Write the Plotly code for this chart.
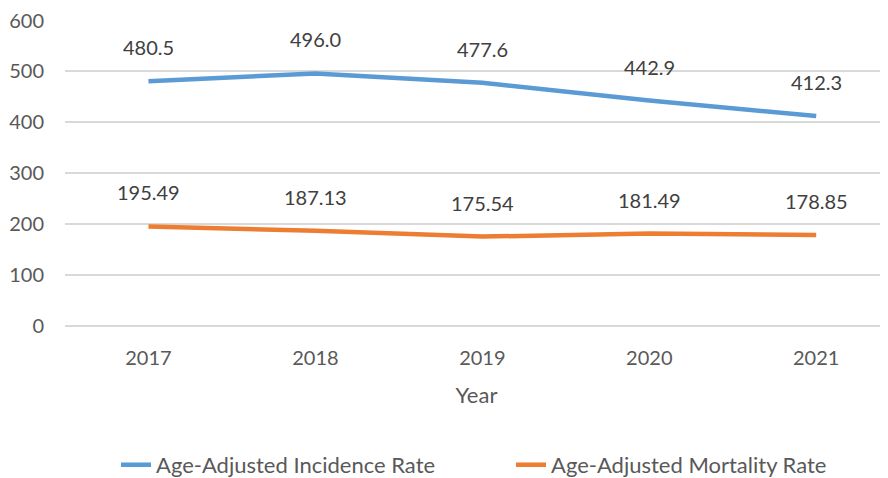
import plotly.graph_objects as go

years = ["2017", "2018", "2019", "2020", "2021"]
incidence = [480.5, 496.0, 477.6, 442.9, 412.3]
mortality = [195.49, 187.13, 175.54, 181.49, 178.85]
incidence_labels = ["480.5", "496.0", "477.6", "442.9", "412.3"]
mortality_labels = ["195.49", "187.13", "175.54", "181.49", "178.85"]

FONT = "Lato, Open Sans, sans-serif"
TXT = "#595959"
fig = go.Figure()
fig.add_trace(go.Scatter(x=years, y=incidence, mode="lines", name="Age-Adjusted Incidence Rate",
                         line=dict(color="#5B9BD5", width=4.5)))
fig.add_trace(go.Scatter(x=years, y=mortality, mode="lines", name="Age-Adjusted Mortality Rate",
                         line=dict(color="#ED7D31", width=4.5)))

for ys, labs in ((incidence, incidence_labels), (mortality, mortality_labels)):
    for i, (y, t) in enumerate(zip(ys, labs)):
        fig.add_annotation(x=i, y=y, xref="x", yref="y", text=t, showarrow=False, yshift=34,
                           font=dict(family=FONT, size=20, color="#404040"))

# page has an 8px body margin, so the figure is sized 8px smaller and offset accordingly
fig.update_layout(
    width=880, height=470,
    margin=dict(l=57, r=0, t=12, b=152, autoexpand=False),
    paper_bgcolor="white", plot_bgcolor="white",
    font=dict(family=FONT, size=20, color=TXT),
    showlegend=True,
    legend=dict(orientation="h", x=0.062, xanchor="left",
                y=-0.454, yanchor="middle", entrywidth=350,
                font=dict(family=FONT, size=22, color=TXT)),
)
fig.update_xaxes(type="category", range=[-0.5, 4.43], showgrid=False, showline=False, zeroline=False,
                 ticks="", ticklabelstandoff=18, automargin=False,
                 title=dict(text="Year", font=dict(size=22, color=TXT), standoff=19),
                 tickfont=dict(size=20, color=TXT))
fig.update_yaxes(range=[0, 601], tickmode="linear", tick0=0, dtick=100, showgrid=True,
                 gridcolor="#D9D9D9", gridwidth=1.5,
                 zeroline=True, zerolinecolor="#D9D9D9", zerolinewidth=1.5, showline=False,
                 automargin=False, ticklabelstandoff=20, ticklabeloverflow="allow",
                 tickfont=dict(size=20, color=TXT), ticks="")
fig.write_html("out.html")
